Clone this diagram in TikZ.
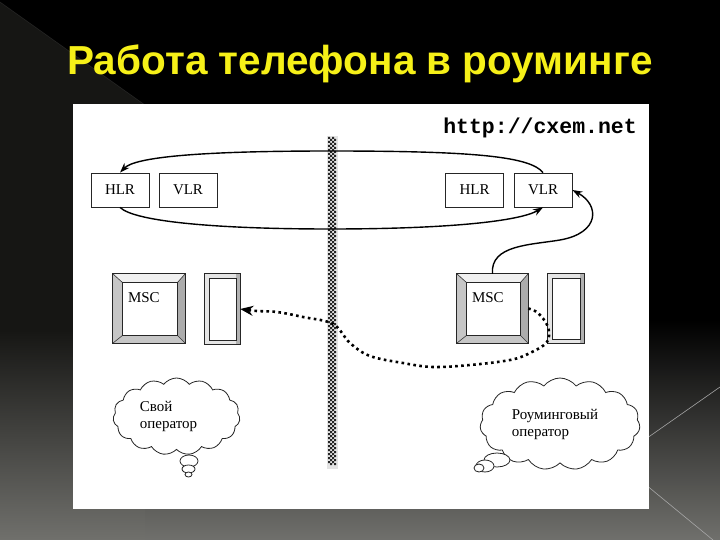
\documentclass[tikz,border=0pt]{standalone}
\usepackage{fontspec}
\setmainfont{Liberation Serif}
\newfontfamily\titlefont{Liberation Sans}
\newfontfamily\urlfont{Liberation Mono}
\usetikzlibrary{arrows.meta,calc,shapes.symbols}
\definecolor{bgA}{RGB}{22,22,20}
\definecolor{bgB}{RGB}{112,112,108}
\definecolor{ttl}{RGB}{246,240,24}
\tikzset{
  lbl/.style={font=\fontsize{15}{17}\selectfont},
  lrbox/.style={lbl, draw=black!85, line width=0.8pt, fill=white, minimum width=58pt, minimum height=34pt, inner sep=0pt},
  mscbox/.style={rectangle, minimum width=72pt, minimum height=69pt, inner sep=0pt},
  phbox/.style={rectangle, minimum width=35pt, minimum height=70pt, inner sep=0pt},
  thought/.style={lbl, cloud, cloud puffs=15, cloud puff arc=105, cloud ignores aspect, draw=black!85, line width=0.8pt, fill=white, align=left, inner sep=0pt},
  bubble/.style={draw=black!85, line width=0.8pt, fill=white},
  solidarrow/.style={line width=1.4pt, -{Stealth[length=10pt,width=7pt]}},
  dotarrow/.style={line width=2.6pt, dash pattern=on 2.6pt off 3.4pt, -{Stealth[length=13pt,width=10pt]}}
}
\newcommand\mscface[1]{%
  \coordinate (#1-a) at ($(#1.north west)+(10,9)$);
  \coordinate (#1-b) at ($(#1.north east)+(-8,9)$);
  \coordinate (#1-c) at ($(#1.south east)+(-8,-8)$);
  \coordinate (#1-d) at ($(#1.south west)+(10,-8)$);
  \fill[gray!12] (#1.north west) -- (#1.north east) -- (#1-b) -- (#1-a) -- cycle;
  \fill[gray!45] (#1.north west) -- (#1-a) -- (#1-d) -- (#1.south west) -- cycle;
  \fill[gray!65] (#1.north east) -- (#1.south east) -- (#1-c) -- (#1-b) -- cycle;
  \fill[gray!45] (#1.south west) -- (#1-d) -- (#1-c) -- (#1.south east) -- cycle;
  \fill[white] (#1-a) rectangle (#1-c);
  \draw[line width=0.6pt, black!80] (#1.north west) -- (#1-a) (#1.north east) -- (#1-b) (#1.south east) -- (#1-c) (#1.south west) -- (#1-d);
  \draw[line width=0.9pt, black!85] (#1-a) rectangle (#1-c);
  \draw[line width=1pt, black!85] (#1.north west) rectangle (#1.south east);
  \node[lbl, anchor=base west, inner sep=0pt] at ($(#1.north west)+(15,29)$) {MSC};
}
\newcommand\phoneface[1]{%
  \fill[gray!20] (#1.north west) rectangle (#1.south east);
  \fill[gray!60] ($(#1.north east)+(-4,0)$) rectangle (#1.south east);
  \fill[white] ($(#1.north west)+(5,5)$) rectangle ($(#1.south east)+(-4,-4)$);
  \draw[line width=0.8pt, black!85] ($(#1.north west)+(5,5)$) rectangle ($(#1.south east)+(-4,-4)$);
  \draw[line width=1pt, black!85] (#1.north west) rectangle (#1.south east);
}
\begin{document}
\begin{tikzpicture}[x=1pt,y=-1pt]
\useasboundingbox (0,0) rectangle (720,540);
% background
\fill[black] (0,0) rectangle (720,540);
\fill[bgA] (0,2) -- (145,105) -- (145,330) -- (0,330) -- cycle;
\shade[top color=bgA, bottom color=bgB] (0,330) rectangle (145,540);
\shade[top color=black, bottom color=bgB] (145,320) rectangle (720,540);
\draw[black!70!white, line width=0.6pt, opacity=0.35] (0,2) -- (145,105);
\draw[gray!70, line width=0.6pt] (640,443) -- (720,387);
\draw[gray!70, line width=0.6pt] (640,480) -- (713,540);
% title
\node[font=\titlefont\bfseries\fontsize{40.5}{45}\selectfont, text=ttl, anchor=base] (title) at (360,75) {Работа телефона в роуминге};
% panel
\fill[white] (73,104) rectangle (649,509);
\node[font=\urlfont\bfseries\fontsize{21.5}{24}\selectfont, anchor=base east, inner sep=0pt] (url) at (637,134) {http://cxem.net};
% checkered border bar
\fill[gray!22] (327,136) rectangle (338,469);
\foreach \k in {0,...,81} {
  \pgfmathsetmacro\yy{137+4*\k}
  \fill[black!85] (328,\yy) rectangle ++(2,2) (332,\yy) rectangle ++(2,2)
                  (330,\yy+2) rectangle ++(2,2) (334,\yy+2) rectangle ++(2,2);
}
% registers
\node[lrbox] (hlr1) at (120,190) {HLR};
\node[lrbox] (vlr1) at (188,190) {VLR};
\node[lrbox] (hlr2) at (474.5,190) {HLR};
\node[lrbox] (vlr2) at (543,190) {VLR};
% switches and phones
\node[mscbox] (msc1) at (149,308.5) {};
\mscface{msc1}
\node[phbox] (ph1) at (222.5,309) {};
\phoneface{ph1}
\node[mscbox, minimum width=71pt] (msc2) at (492.5,308.5) {};
\mscface{msc2}
\node[phbox, minimum width=36pt] (ph2) at (566,308.5) {};
\phoneface{ph2}
% clouds
\node[thought, minimum width=127pt, minimum height=77pt] (op1) at (176.5,416.5) {Свой\\оператор\rule{16pt}{0pt}};
\draw[bubble] (189,461) ellipse (9 and 6);
\draw[bubble] (188.5,469) ellipse (6.5 and 4);
\draw[bubble] (188.5,474.5) ellipse (3.5 and 2.5);
\node[thought, minimum width=160pt, minimum height=92pt] (op2) at (560,424) {Роуминговый\rule{10pt}{0pt}\\оператор};
\draw[bubble] (497,460) ellipse (13 and 7);
\draw[bubble] (485,466) ellipse (9 and 6);
\draw[bubble] (479,468) ellipse (5 and 4);
% connectors
\draw[solidarrow] (vlr2.north) .. controls (530,156) and (470,151) .. (330,151)
   .. controls (200,151) and (135,157) .. (hlr1.north);
\draw[solidarrow] (hlr1.south) .. controls (135,222) and (220,229) .. (330,229)
   .. controls (450,229) and (520,221) .. (vlr2.south);
\draw[solidarrow] (msc2.north) .. controls (490,245) and (530,245) .. (560,240)
   .. controls (600,233) and (600,205) .. (vlr2.east);
\draw[dotarrow] plot[smooth, tension=0.6] coordinates {(msc2.east) (538,313) (548,327) (547,342) (530,353) (510,360) (470,365) (433,367) (403,363) (370,356) (350,343) (333,324) (303,317) (277,312) (257,311) (ph1.east)};
\end{tikzpicture}
\end{document}
